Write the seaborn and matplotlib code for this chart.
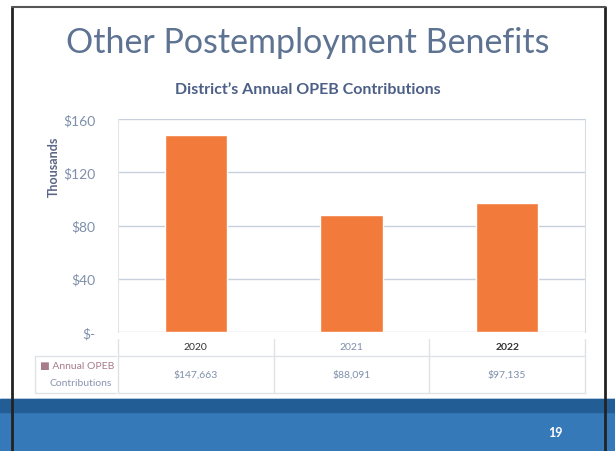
import numpy as np
import pandas as pd
import seaborn as sns
import matplotlib.pyplot as plt
from matplotlib.patches import Rectangle
from matplotlib.transforms import blended_transform_factory

years = ['2020', '2021', '2022']
contrib = [147663, 88091, 97135]
ytick_vals = [0, 40, 80, 120, 160]
ytick_labels = ['$-', '$40', '$80', '$120', '$160']

sns.set_style('white')
plt.rcParams['font.family'] = ['Lato', 'DejaVu Sans']

df = pd.DataFrame({'year': years, 'value': [v / 1000 for v in contrib]})

fig = plt.figure(figsize=(6.15, 4.52), dpi=100)
W, H = 615, 452
ax = fig.add_axes([118 / W, 1 - 333 / H, (585 - 118) / W, (333 - 120) / H])

sns.barplot(data=df, x='year', y='value', color='#f27b3b', width=0.4,
            saturation=1, ax=ax, zorder=3)
ax.set_ylim(0, 160)
ax.set_xlim(-0.5, 2.5)
ax.set_yticks(ytick_vals)
ax.set_yticklabels(ytick_labels, color='#7f8fab', fontsize=10)
ax.set_xticks([])
ax.set_xlabel('')
ax.set_ylabel('Thousands', color='#5b6585', fontsize=9, fontweight='bold')
ax.yaxis.set_label_coords(-0.125, 0.78)
ax.tick_params(axis='y', length=0, pad=16)
ax.grid(axis='y', color='#c8d0dc', linewidth=1, zorder=0)
for s in ax.spines.values():
    s.set_visible(False)
ax.spines['left'].set_visible(True)
ax.spines['left'].set_color('#e4e6ea')
ax.spines['right'].set_visible(True)
ax.spines['right'].set_color('#d8dde4')

# data table under the axis
tr = blended_transform_factory(ax.transData, fig.transFigure)
fy = lambda py: 1 - py / H
line_c = '#e0e2e6'
for x in [-0.5, 0.5, 1.5, 2.5]:
    ax.plot([x, x], [fy(340), fy(394)], color=line_c, lw=1, transform=tr, clip_on=False)
for py in [357, 394]:
    ax.plot([-0.5, 2.5], [fy(py), fy(py)], color=line_c, lw=1, transform=tr, clip_on=False)
fig.add_artist(plt.Line2D([35 / W, 116 / W], [fy(357), fy(357)], color=line_c, lw=1))
fig.add_artist(plt.Line2D([35 / W, 116 / W], [fy(394), fy(394)], color=line_c, lw=1))
fig.add_artist(plt.Line2D([35 / W, 35 / W], [fy(357), fy(394)], color=line_c, lw=1))
for i, (yr, v) in enumerate(zip(years, contrib)):
    ax.text(i, fy(347), yr, transform=tr, ha='center', va='center', fontsize=7.5,
            color='#333333' if i != 1 else '#7f8fab', fontweight='bold' if i == 2 else 'normal')
    ax.text(i, fy(375), f'${v:,}', transform=tr, ha='center', va='center',
            fontsize=7.5, color='#7f8fab')
fig.text(40 / W, fy(366), '\u25a0 Annual OPEB', fontsize=7.5, color='#a77b8a', va='center')
fig.text(50 / W, fy(384), 'Contributions', fontsize=7.5, color='#8a93b0', va='center')

# slide decorations
fig.text(0.5, fy(43), 'Other Postemployment Benefits', ha='center', va='center',
         fontsize=24.5, color='#5e7392')
fig.text(0.5, fy(90), 'District\u2019s Annual OPEB Contributions', ha='center', va='center',
         fontsize=11.5, fontweight='bold', color='#4c5f86')
fig.add_artist(Rectangle((0, 0), 1, 1 - 400 / H, transform=fig.transFigure,
                         color='#3579b8', zorder=0))
fig.add_artist(Rectangle((0, 1 - 413 / H), 1, 13 / H, transform=fig.transFigure,
                         color='#225d96', zorder=0))
fig.text(548 / W, fy(433), '19', fontsize=9, color='white', fontweight='bold', va='center')
fig.add_artist(plt.Line2D([12 / W, 12 / W], [0, fy(8)], color='#222222', lw=2))
fig.add_artist(plt.Line2D([605 / W, 605 / W], [0, fy(8)], color='#222222', lw=2))
fig.add_artist(plt.Line2D([12 / W, 605 / W], [fy(8), fy(8)], color='#555555', lw=1.5))

fig.savefig('out.png', dpi=100)
